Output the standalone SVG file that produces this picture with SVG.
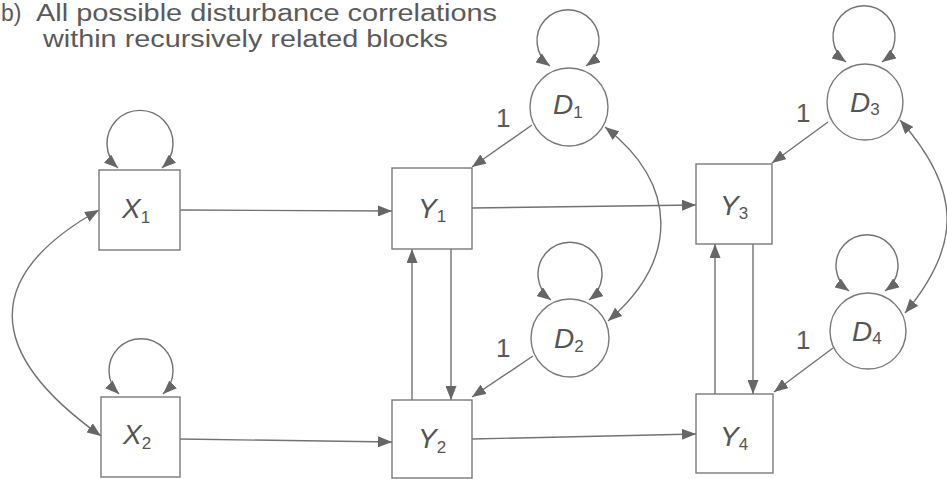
<svg xmlns="http://www.w3.org/2000/svg" width="947" height="479" viewBox="0 0 947 479">
  <style>
    .box { fill: #ffffff; stroke: #7a7a7a; stroke-width: 1.4; }
    .dist { fill: #ffffff; stroke: #7a7a7a; stroke-width: 1.4; }
    .edge { fill: none; stroke: #727272; stroke-width: 1.4; }
    .one-way { marker-end: url(#arrow); }
    .two-way { marker-start: url(#arrow); marker-end: url(#arrow); }
    .title { font-family: "Liberation Sans", Arial, sans-serif; font-size: 23px; fill: #5a5a5a; }
    .lbl { font-family: "Liberation Sans", Arial, sans-serif; font-size: 28px; font-style: italic; fill: #555555; }
    .sub { font-size: 17px; font-style: normal; }
    .coef { font-family: "Liberation Sans", Arial, sans-serif; font-size: 26px; fill: #5a5a5a; }
  </style>
  <defs>
    <marker id="arrow" viewBox="0 0 14 11" refX="14" refY="5.5" markerWidth="14" markerHeight="11" markerUnits="userSpaceOnUse" orient="auto-start-reverse">
      <path d="M0,0 L14,5.5 L0,11 Z" fill="#666666"/>
    </marker>
  </defs>

  <rect width="947" height="479" fill="#ffffff"/>

  <!-- heading -->
  <g id="heading">
    <text class="title" x="1" y="21">b)</text>
    <text class="title" x="36" y="21" textLength="461" lengthAdjust="spacingAndGlyphs">All possible disturbance correlations</text>
    <text class="title" x="43" y="47" textLength="405" lengthAdjust="spacingAndGlyphs">within recursively related blocks</text>
  </g>

  <!-- connectors -->
  <g id="connectors">
    <!-- structural paths -->
    <path class="edge one-way" d="M180,210 L392,211"/>
    <path class="edge one-way" d="M180,439 L392,442"/>
    <path class="edge one-way" d="M472,208 L696,205"/>
    <path class="edge one-way" d="M472,439 L696,434"/>
    <!-- reciprocal paths within blocks -->
    <path class="edge one-way" d="M451,249 L451,400"/>
    <path class="edge one-way" d="M412,400 L412,249"/>
    <path class="edge one-way" d="M753,244 L753,394"/>
    <path class="edge one-way" d="M715,394 L715,244"/>
    <!-- disturbance loadings -->
    <path class="edge one-way" d="M532,125 L472,167"/>
    <path class="edge one-way" d="M533,356 L472,397"/>
    <path class="edge one-way" d="M828,122 L772,163"/>
    <path class="edge one-way" d="M833,348 L774,392"/>
    <!-- covariances -->
    <path class="edge two-way" d="M99,210 C-17,275 -17,352 101,436"/>
    <path class="edge two-way" d="M605,127 C679,185 679,260 608,321"/>
    <path class="edge two-way" d="M900,120 C962,190 962,245 905,313"/>
    <!-- variances -->
    <path class="edge two-way" d="M118,168 A33,33 0 1 1 162,168"/>
    <path class="edge two-way" d="M119,394 A32,32 0 1 1 163,394"/>
    <path class="edge two-way" d="M550,66 A31,31 0 1 1 586,66"/>
    <path class="edge two-way" d="M551,300 A32,32 0 1 1 589,300"/>
    <path class="edge two-way" d="M846,62 A31,31 0 1 1 882,62"/>
    <path class="edge two-way" d="M849,291 A31,31 0 1 1 885,291"/>
  </g>

  <!-- coefficient labels -->
  <g id="coefficients">
    <text class="coef" x="496" y="127">1</text>
    <text class="coef" x="496" y="357">1</text>
    <text class="coef" x="796" y="122">1</text>
    <text class="coef" x="796" y="349">1</text>
  </g>

  <!-- observed variables -->
  <g id="X1">
    <rect class="box" x="99" y="170" width="81" height="80"/>
    <text class="lbl" x="122" y="218">X<tspan class="sub" dy="5">1</tspan></text>
  </g>
  <g id="X2">
    <rect class="box" x="101" y="397" width="79" height="80"/>
    <text class="lbl" x="123" y="444">X<tspan class="sub" dy="5">2</tspan></text>
  </g>
  <g id="Y1">
    <rect class="box" x="392" y="168" width="80" height="81"/>
    <text class="lbl" x="418" y="218">Y<tspan class="sub" dy="4">1</tspan></text>
  </g>
  <g id="Y2">
    <rect class="box" x="392" y="400" width="80" height="78"/>
    <text class="lbl" x="418" y="448">Y<tspan class="sub" dy="5">2</tspan></text>
  </g>
  <g id="Y3">
    <rect class="box" x="696" y="164" width="76" height="80"/>
    <text class="lbl" x="720" y="215">Y<tspan class="sub" dy="4">3</tspan></text>
  </g>
  <g id="Y4">
    <rect class="box" x="696" y="394" width="77" height="79"/>
    <text class="lbl" x="720" y="446">Y<tspan class="sub" dy="4">4</tspan></text>
  </g>

  <!-- disturbances -->
  <g id="D1">
    <circle class="dist" cx="569" cy="107" r="39"/>
    <text class="lbl" x="553" y="114">D<tspan class="sub" dy="4">1</tspan></text>
  </g>
  <g id="D2">
    <circle class="dist" cx="570" cy="338" r="39"/>
    <text class="lbl" x="554" y="348">D<tspan class="sub" dy="4">2</tspan></text>
  </g>
  <g id="D3">
    <circle class="dist" cx="865" cy="102" r="38"/>
    <text class="lbl" x="850" y="112">D<tspan class="sub" dy="3">3</tspan></text>
  </g>
  <g id="D4">
    <circle class="dist" cx="868" cy="331" r="38"/>
    <text class="lbl" x="852" y="341">D<tspan class="sub" dy="3">4</tspan></text>
  </g>
</svg>
